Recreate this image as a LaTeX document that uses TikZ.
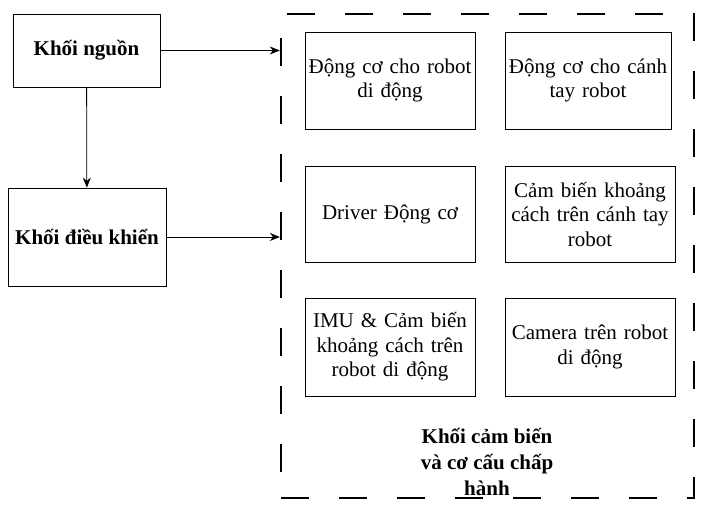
\documentclass[tikz,border=0pt]{standalone}
\usepackage{fontspec}
\setmainfont{Liberation Serif}
\usetikzlibrary{arrows.meta}
\tikzset{
  khoi/.style={draw, line width=0.8pt, rectangle, align=center, font=\fontsize{21}{24.5}\selectfont},
  khoichinh/.style={khoi, font=\fontsize{21}{24.5}\selectfont\bfseries},
  muiten/.style={line width=0.8pt, -{Stealth[length=10pt,width=8pt]}}
}
\begin{document}
\begin{tikzpicture}[x=1pt, y=-1pt]
            \useasboundingbox (0, 0) rectangle (712, 516);
            \node[khoichinh, minimum width=147pt, minimum height=73pt] (nguon) at (86.5, 50.5) {Khối nguồn};
            \node[khoichinh, minimum width=158pt, minimum height=98pt, inner sep=1pt] (dieukhien) at (87, 237) {Khối điều khiển};
            \node[draw, line width=2.4pt, dash pattern=on 28pt off 30pt, minimum width=413pt, minimum height=484pt] (chaphanh) at (487.5, 256) {};
            \node[khoi, minimum width=170pt, minimum height=97pt, text width=168pt, inner sep=1pt] (dcrobot) at (390, 80.5) {Động cơ cho robot\\di động};
            \node[khoi, minimum width=166pt, minimum height=97pt, text width=164pt, inner sep=1pt] (dccanhtay) at (588, 80.5) {Động cơ cho cánh\\tay robot};
            \node[khoi, minimum width=170pt, minimum height=96pt, text width=168pt, inner sep=1pt] (driver) at (390, 214) {Driver Động cơ};
            \node[khoi, minimum width=170pt, minimum height=96pt, text width=168pt, inner sep=1pt] (cbcanhtay) at (590, 214) {Cảm biến khoảng\\cách trên cánh tay\\robot};
            \node[khoi, minimum width=170pt, minimum height=98pt, text width=168pt, inner sep=1pt] (imu) at (390, 347) {IMU \& Cảm biến\\khoảng cách trên\\robot di động};
            \node[khoi, minimum width=170pt, minimum height=98pt, text width=168pt, inner sep=1pt] (camera) at (590, 347) {Camera trên robot\\di động};
            \node[align=center, font=\fontsize{21}{26}\selectfont\bfseries] (nhan) at (487, 462) {Khối cảm biến\\và cơ cấu chấp\\hành};
            \draw[muiten] (nguon) -- (nguon -| chaphanh.west);
            \draw[muiten] (nguon) -- (dieukhien);
            \draw[muiten] (dieukhien) -- (dieukhien -| chaphanh.west);
        \end{tikzpicture}
\end{document}
